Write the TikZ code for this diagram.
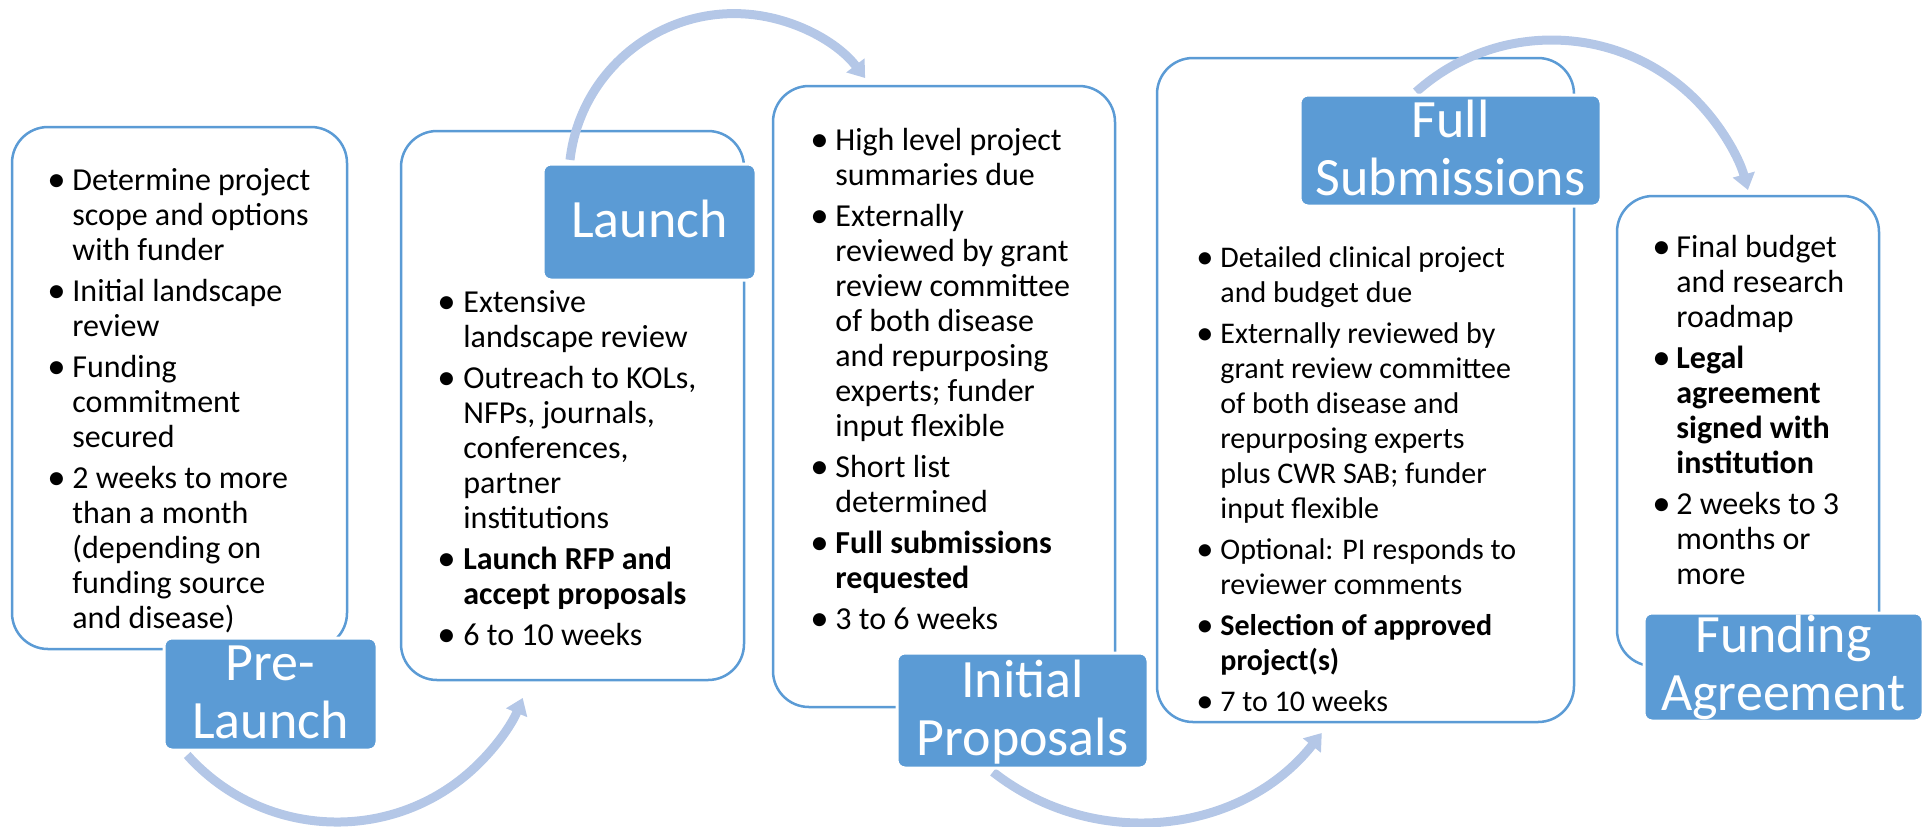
\documentclass[tikz,border=0pt]{standalone}
\usepackage{fontspec}
\usepackage{graphicx}
\setmainfont{Carlito}
\usetikzlibrary{arrows.meta}
\definecolor{accent}{HTML}{5B9BD5}
\definecolor{flowc}{HTML}{B4C7E7}
\newlength\bulw
\newcommand\bul{\kern-1.5pt\raisebox{-0.7pt}{\scalebox{1.15}{\textbullet}}}
\newcommand\itm{\par\hangindent=\bulw\relax\hangafter=1\relax\noindent\makebox[\bulw][l]{\bul}}
\newcommand\blist[3]{\parbox[t]{220pt}{\fontsize{#1}{17.5pt}\selectfont\setlength\parindent{0pt}\setlength\parskip{3pt}\setlength\bulw{#2}\let\\\newline #3}}
\newcommand\labtext[1]{\parbox[t]{160pt}{\centering\fontsize{27pt}{29pt}\selectfont #1}}
\tikzset{
  card/.style={draw=accent, line width=1.25pt, rounded corners=18pt, fill=white, inner sep=0pt},
  lab/.style={rectangle, rounded corners=4pt, fill=accent, draw=white, line width=1.5pt, inner sep=0pt},
  labtxt/.style={inner sep=0pt, anchor=base, text=white},
  body/.style={inner sep=0pt, anchor=base west, text=black},
  flow/.style={draw=flowc, line width=4.5pt, -{Triangle[width=11pt,length=8pt]}}
}
\begin{document}
\begin{tikzpicture}[x=0.5pt,y=-0.5pt]
\useasboundingbox (0,0) rectangle (1929,826);
% content cards
\node[card, minimum width=167.5pt, minimum height=261pt] (B1) at (179.5,388) {};
\node[card, minimum width=171.5pt, minimum height=274.5pt] (B2) at (572.5,405.5) {};
\node[card, minimum width=171pt, minimum height=310.5pt] (B3) at (944,396.5) {};
\node[card, minimum width=208.5pt, minimum height=332pt] (B4) at (1365.5,390) {};
\node[card, minimum width=131pt, minimum height=235pt] (B5) at (1748,431) {};
% texts
\node[body] (T1) at (50,190) {\blist{16pt}{11pt}{%
\itm Determine project\\scope and options\\with funder
\itm Initial landscape\\review
\itm Funding\\commitment\\secured
\itm 2 weeks to more\\than a month\\(depending on\\funding source\\and disease)}};
\node[body] (T2) at (440,312) {\blist{16pt}{11.5pt}{%
\itm Extensive\\landscape review
\itm Outreach to KOLs,\\NFPs, journals,\\conferences,\\partner\\institutions
\itm \textbf{Launch RFP and}\\\textbf{accept proposals}
\itm 6 to 10 weeks}};
\node[body] (T3) at (813,150) {\blist{16pt}{11pt}{%
\itm High level project\\summaries due
\itm Externally\\reviewed by grant\\review committee\\of both disease\\and repurposing\\experts; funder\\input flexible
\itm Short list\\determined
\itm \textbf{Full submissions}\\\textbf{requested}
\itm 3 to 6 weeks}};
\node[body] (T4) at (1199,267) {\blist{15pt}{10.5pt}{%
\itm Detailed clinical project\\and budget due
\itm Externally reviewed by\\grant review committee\\of both disease and\\repurposing experts\\plus CWR SAB; funder\\input flexible
\itm Optional: PI responds to\\reviewer comments
\itm \textbf{Selection of approved}\\\textbf{project(s)}
\itm 7 to 10 weeks}};
\node[body] (T5) at (1655,257) {\blist{16pt}{10.5pt}{%
\itm Final budget\\and research\\roadmap
\itm \textbf{Legal}\\\textbf{agreement}\\\textbf{signed with}\\\textbf{institution}
\itm 2 weeks to 3\\months or\\more}};
% flow arrows
\coordinate (a1s) at (187.2,755);
\coordinate (a2s) at (570,159.9);
\coordinate (a3s) at (992.9,771.9);
\coordinate (a4s) at (1416,92);
\draw[flow] (a1s) arc[start angle=138.2, end angle=22.5, radius=201];
\draw[flow] (a2s) arc[start angle=-173.4, end angle=-37.6, radius=165.3];
\draw[flow] (a3s) arc[start angle=128.2, end angle=38.3, radius=234.4];
\draw[flow] (a4s) arc[start angle=-131.9, end angle=-15.2, radius=203.3];
% stage labels
\node[lab, minimum width=106.5pt, minimum height=56pt] (L1) at (270.5,694) {};
\node[lab, minimum width=106.5pt, minimum height=58pt] (L2) at (649.5,222) {};
\node[lab, minimum width=125.5pt, minimum height=57.5pt] (L3) at (1022.5,710.5) {};
\node[lab, minimum width=150.5pt, minimum height=55.5pt] (L4) at (1450.5,150.5) {};
\node[lab, minimum width=139.5pt, minimum height=54pt] (L5) at (1783.5,667) {};
\node[labtxt] (L1t) at (270.5,680) {\labtext{Pre-\\Launch}};
\node[labtxt] (L2t) at (649.5,237) {\labtext{Launch}};
\node[labtxt] (L3t) at (1022.5,697) {\labtext{Initial\\Proposals}};
\node[labtxt] (L4t) at (1450.5,137) {\labtext{Full\\Submissions}};
\node[labtxt] (L5t) at (1783.5,652) {\labtext{Funding\\Agreement}};
\end{tikzpicture}
\end{document}
